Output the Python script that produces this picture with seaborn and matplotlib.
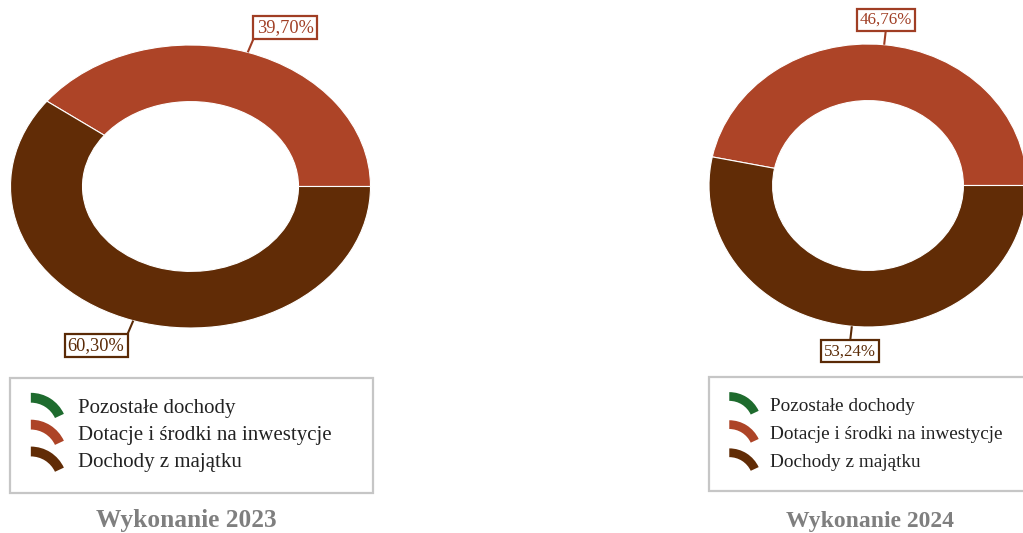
import numpy as np
import matplotlib
matplotlib.use("Agg")
import matplotlib.pyplot as plt
import seaborn as sns
from matplotlib.legend_handler import HandlerBase
from matplotlib.patches import Wedge

# ---- data ----
categories = ["Pozostałe dochody", "Dotacje i środki na inwestycje", "Dochody z majątku"]
share_2023 = [0.0, 39.70, 60.30]
share_2024 = [0.0, 46.76, 53.24]
panel_titles = ["Wykonanie 2023", "Wykonanie 2024"]

colors = ["#1E6B2E", "#AD4427", "#612C06"]
label_colors = ["#1E6B2E", "#A03E24", "#5A2A06"]

sns.set_theme(style="white")
plt.rcParams["font.family"] = ["Liberation Serif", "DejaVu Serif"]
palette = sns.color_palette(colors)

W, H = 1023, 533
fig = plt.figure(figsize=(W / 100, H / 100), dpi=100)
fig.patch.set_facecolor("white")


class ArcHandler(HandlerBase):
    def create_artists(self, legend, orig_handle, xdescent, ydescent,
                       width, height, fontsize, trans):
        r = width
        ring = 0.27 * r
        lo = 25
        top = r
        bot = (r - ring) * np.sin(np.radians(lo))
        cx = -xdescent
        cy = -ydescent + height / 2 - (top + bot) / 2 + 0.5
        w = Wedge((cx, cy), r, lo, 90, width=ring,
                  facecolor=orig_handle.get_facecolor(), edgecolor="none",
                  transform=trans)
        return [w]


def px_axes(x0, x1, ytop, ybot):
    return fig.add_axes([x0 / W, (H - ybot) / H, (x1 - x0) / W, (ybot - ytop) / H])


panels = [
    dict(values=share_2023, ax=(10.5, 370.5, 45, 328), legend=(10, 373, 378),
         title_x=186, title_fs=18.3, label_fs=13.2, leg_fs=15.0,
         leg_hl=1.75, leg_tp=0.5, leg_ls=0.35, leg_bp=1.0),
    dict(values=share_2024, ax=(709, 1027, 44, 327), legend=(709, 1072, 377),
         title_x=870, title_fs=17.0, label_fs=12.2, leg_fs=13.9,
         leg_hl=1.68, leg_tp=0.45, leg_ls=0.55, leg_bp=1.05),
]

for p, title in zip(panels, panel_titles):
    ax = px_axes(*p["ax"])
    wedges, _ = ax.pie(p["values"], colors=palette, startangle=0, counterclock=True,
                       radius=1.0,
                       wedgeprops=dict(width=0.4, edgecolor="white", linewidth=0.8))
    ax.set_aspect("auto")
    ax.set_xlim(-1, 1)
    ax.set_ylim(-1, 1)
    ax.axis("off")

    fs = p["label_fs"]
    pad = 0.17
    for w, v, lc in zip(wedges, p["values"], label_colors):
        if v <= 0:
            continue
        mid = np.radians((w.theta1 + w.theta2) / 2)
        c, s = np.cos(mid), np.sin(mid)
        ex, ey = 1.1 * c, 1.1 * s
        ax.plot([c, ex], [s, ey], color=lc, lw=1.5, solid_capstyle="butt", clip_on=False)
        if c > 0.2:
            ha, dx = "left", 1
        elif c < -0.2:
            ha, dx = "right", -1
        else:
            ha, dx = "center", 0
        va, dy = ("bottom", 1) if s > 0 else ("top", -1)
        txt = f"{v:.2f}%".replace(".", ",")
        ax.annotate(txt, xy=(ex, ey), xytext=(dx * pad * fs, dy * pad * fs),
                    textcoords="offset points", ha=ha, va=va, fontsize=fs, color=lc,
                    annotation_clip=False,
                    bbox=dict(boxstyle=f"square,pad={pad}", fc="white", ec=lc, lw=1.6))

    lx0, lx1, ltop = p["legend"]
    leg = ax.legend(wedges, categories, loc="upper left",
                    bbox_to_anchor=(lx0 / W, 0, (lx1 - lx0) / W, (H - ltop) / H),
                    bbox_transform=fig.transFigure, mode="expand", borderaxespad=0,
                    handler_map={Wedge: ArcHandler()}, fontsize=p["leg_fs"],
                    handlelength=p["leg_hl"], handleheight=0.7,
                    handletextpad=p["leg_tp"], labelspacing=p["leg_ls"],
                    borderpad=p["leg_bp"], fancybox=False, frameon=True, framealpha=1)
    leg.get_frame().set_edgecolor("#c6c6c6")
    leg.get_frame().set_linewidth(1.6)
    for t in leg.get_texts():
        t.set_color("#222222")

    fig.text(p["title_x"] / W, 1 - 521 / H, title, ha="center", va="center",
             fontsize=p["title_fs"], fontweight="bold", color="#7f7f7f")

fig.savefig("out.png", dpi=100, facecolor="white")
